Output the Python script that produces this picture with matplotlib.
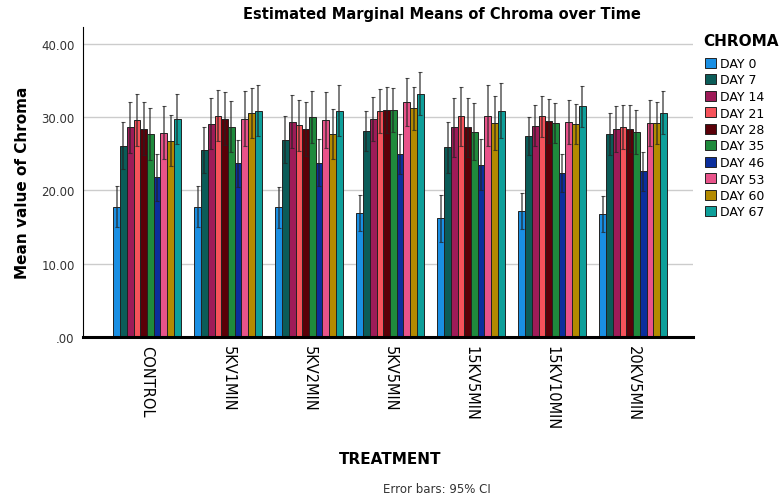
import numpy as np
import matplotlib
matplotlib.use("Agg")
import matplotlib.pyplot as plt
from matplotlib.patches import Patch

treatments = ["CONTROL", "5KV1MIN", "5KV2MIN", "5KV5MIN", "15KV5MIN", "15KV10MIN", "20KV5MIN"]
days = ["DAY 0", "DAY 7", "DAY 14", "DAY 21", "DAY 28", "DAY 35", "DAY 46", "DAY 53", "DAY 60", "DAY 67"]
day_colors = ["#1a8fe3", "#0b5c58", "#9e1b58", "#f5525a", "#5a0008", "#1f8a3c",
              "#0b2e9c", "#e8538a", "#b38a00", "#0e9f9a"]

# mean chroma per treatment (rows) and day (columns)
means_control = [17.8, 26.1, 28.6, 29.6, 28.4, 27.7, 21.8, 27.9, 26.8, 29.8]
means_5kv1 = [17.8, 25.5, 29.1, 30.2, 29.8, 28.7, 23.7, 29.8, 30.6, 30.9]
means_5kv2 = [17.7, 26.9, 29.4, 28.9, 28.4, 30.0, 23.8, 29.6, 27.7, 30.9]
means_5kv5 = [16.9, 28.1, 29.7, 30.9, 31.0, 31.0, 25.0, 32.1, 31.2, 33.2]
means_15kv5 = [16.2, 25.9, 28.6, 30.1, 28.6, 28.0, 23.5, 30.2, 29.2, 30.9]
means_15kv10 = [17.2, 27.4, 28.8, 30.1, 29.5, 29.2, 22.4, 29.3, 29.1, 31.5]
means_20kv5 = [16.8, 27.7, 28.4, 28.6, 28.4, 28.0, 22.6, 29.2, 29.2, 30.6]

# half-width of the 95% confidence interval
ci_control = [2.8, 3.2, 3.5, 3.5, 3.6, 3.5, 3.2, 3.6, 3.5, 3.4]
ci_5kv1 = [2.8, 3.1, 3.5, 3.5, 3.6, 3.5, 3.2, 3.7, 3.4, 3.5]
ci_5kv2 = [2.8, 3.2, 3.6, 3.5, 3.7, 3.5, 3.2, 3.8, 3.4, 3.5]
ci_5kv5 = [2.5, 2.7, 3.0, 3.0, 3.1, 3.0, 2.7, 3.3, 2.9, 2.9]
ci_15kv5 = [3.2, 3.5, 4.0, 4.0, 4.0, 3.9, 3.5, 4.2, 3.7, 3.8]
ci_15kv10 = [2.4, 2.6, 2.8, 2.8, 3.0, 2.7, 2.6, 3.0, 2.7, 2.8]
ci_20kv5 = [2.5, 2.8, 3.1, 3.0, 3.2, 3.0, 2.7, 3.2, 2.8, 2.9]

means = np.array([means_control, means_5kv1, means_5kv2, means_5kv5,
                  means_15kv5, means_15kv10, means_20kv5])
cis = np.array([ci_control, ci_5kv1, ci_5kv2, ci_5kv5,
                ci_15kv5, ci_15kv10, ci_20kv5])

plt.rcParams['font.family'] = ['DejaVu Sans']

fig = plt.figure(figsize=(7.8, 5.02), dpi=100)
ax = fig.add_axes([83 / 780, 1 - 338 / 502, (693 - 83) / 780, (338 - 28) / 502])

n_days = len(days)
group_w = 0.83
bar_w = group_w / n_days
x = np.arange(len(treatments))

for j in range(n_days):
    pos = x - group_w / 2 + bar_w * (j + 0.5)
    ax.bar(pos, means[:, j], width=bar_w, color=day_colors[j],
           edgecolor="#222222", linewidth=0.7, zorder=2)
    ax.errorbar(pos, means[:, j], yerr=cis[:, j], fmt="none",
                ecolor="#222222", elinewidth=1.1, capsize=1.2, capthick=0.8,
                alpha=0.75, zorder=3)

ax.set_xlim(-0.79, 6.74)
ax.set_ylim(0, 42.3)
ax.set_yticks([0, 10, 20, 30, 40])
ax.set_yticklabels([".00", "10.00", "20.00", "30.00", "40.00"], fontsize=8.5, color="#333333")
ax.yaxis.grid(True, color="#cccccc", linewidth=1.0, zorder=0)
ax.set_axisbelow(True)

ax.set_xticks(x)
ax.set_xticklabels(treatments, rotation=270, fontsize=10.5, va="top", ha="center")
ax.tick_params(axis="both", length=0, pad=6)
ax.tick_params(axis="x", pad=6)

for side in ["top", "right"]:
    ax.spines[side].set_visible(False)
ax.spines["left"].set_linewidth(0.8)
ax.spines["bottom"].set_linewidth(2.2)
ax.spines["bottom"].set_zorder(4)

ax.set_ylabel("Mean value of Chroma", fontsize=11, fontweight="bold", labelpad=8)

fig.text(442 / 780, 1 - 15 / 502, "Estimated Marginal Means of Chroma over Time",
         ha="center", va="center", fontsize=10.5, fontweight="bold")
fig.text(390 / 780, 1 - 460 / 502, "TREATMENT", ha="center", va="center",
         fontsize=11, fontweight="bold")
fig.text(437 / 780, 1 - 490 / 502, "Error bars: 95% CI", ha="center", va="center",
         fontsize=8.5, color="#333333")

# legend heading drawn separately for spacing control
fig.text(703 / 780, 1 - 42 / 502, "CHROMA", ha="left", va="center",
         fontsize=11, fontweight="bold")
handles = [Patch(facecolor=c, edgecolor="#222222", linewidth=0.7) for c in day_colors]
fig.legend(handles, days, loc="upper left", bbox_to_anchor=(705 / 780, 1 - 58 / 502),
           frameon=False, fontsize=9, handlelength=0.9,
           handleheight=0.9, handletextpad=0.3, labelspacing=0.28,
           borderaxespad=0, borderpad=0)

fig.savefig("out.png", dpi=100)
